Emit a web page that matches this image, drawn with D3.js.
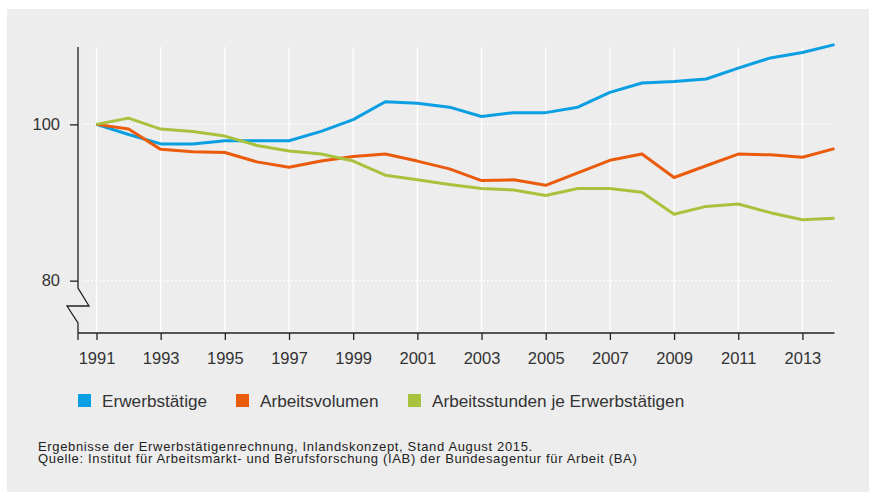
<!DOCTYPE html>
<html lang="de">

<head>
    <meta charset="UTF-8">
    <title>Erwerbstätige und Arbeitsvolumen</title>
    <script src="https://cdn.jsdelivr.net/npm/d3@7"></script>
    <style>
        html, body { margin: 0; padding: 0; background: #fff; }
        svg { display: block; font-family: "Liberation Sans", Arial, sans-serif; }
    </style>
</head>

<body>
    <svg width="869" height="492"></svg>

    <script>
        // data (Index 1991 = 100)
        const years = d3.range(1991, 2015)
        const erwerbstaetige = [100, 98.7, 97.5, 97.5, 97.9, 97.9, 97.9, 99.1, 100.6, 102.9, 102.7, 102.2,
            101.0, 101.5, 101.5, 102.2, 104.1, 105.3, 105.5, 105.8, 107.2, 108.5, 109.2, 110.2]
        const arbeitsvolumen = [100, 99.4, 96.8, 96.5, 96.4, 95.2, 94.5, 95.3, 95.9, 96.2, 95.3, 94.3,
            92.8, 92.9, 92.2, 93.8, 95.4, 96.2, 93.2, 94.7, 96.2, 96.1, 95.8, 96.9]
        const stundenJe = [100, 100.8, 99.4, 99.1, 98.5, 97.3, 96.6, 96.2, 95.3, 93.5, 92.9, 92.3,
            91.8, 91.6, 90.9, 91.8, 91.8, 91.3, 88.5, 89.5, 89.8, 88.7, 87.8, 88.0]
        const yearTicks = d3.range(1991, 2014, 2)
        const valueTicks = [80, 100]

        const seriesNames = ['Erwerbstätige', 'Arbeitsvolumen', 'Arbeitsstunden je Erwerbstätigen']
        const seriesColors = ['#0a9fe2', '#ea5b0c', '#a8c23e']
        const seriesValues = [erwerbstaetige, arbeitsvolumen, stundenJe]

        const notes = [
            'Ergebnisse der Erwerbstätigenrechnung, Inlandskonzept, Stand August 2015.',
            'Quelle: Institut für Arbeitsmarkt- und Berufsforschung (IAB) der Bundesagentur für Arbeit (BA)'
        ]

        const svg = d3.select('svg')

        // grey panel
        svg.append('rect')
            .attr('x', 7).attr('y', 9)
            .attr('width', 862).attr('height', 483)
            .attr('fill', '#ededed')

        const axisX0 = 78
        const x = d3.scaleLinear().domain([1991, 2014]).range([96.5, 834.5])
        const y = d3.scaleLinear().domain([73.3, 109.9]).range([333, 47])

        // vertical grid lines
        svg.append('g')
            .selectAll('line')
            .data(yearTicks)
            .join('line')
            .attr('x1', d => x(d)).attr('x2', d => x(d))
            .attr('y1', y(109.9)).attr('y2', y(73.3))
            .attr('stroke', '#fff')
            .attr('stroke-width', 1.3)

        // dotted horizontal grid
        svg.append('g')
            .selectAll('line')
            .data(valueTicks)
            .join('line')
            .attr('x1', axisX0 + 5).attr('x2', x(2014))
            .attr('y1', d => y(d)).attr('y2', d => y(d))
            .attr('stroke', '#fff')
            .attr('stroke-width', 1.5)
            .attr('stroke-dasharray', '1.5,2.5')

        // lines
        const line = d3.line()
            .x((d, i) => x(years[i]))
            .y(d => y(d))

        svg.append('g')
            .selectAll('path')
            .data(seriesValues)
            .join('path')
            .attr('d', d => line(d))
            .attr('fill', 'none')
            .attr('stroke', (d, i) => seriesColors[i])
            .attr('stroke-width', 3)
            .attr('stroke-linejoin', 'round')

        // x axis
        const xAxis = svg.append('g')
            .attr('transform', `translate(0,${y(73.3)})`)
            .call(d3.axisBottom(x).tickValues(yearTicks).tickFormat(d3.format('d')).tickSize(7).tickPadding(12))
        xAxis.select('.domain').remove()
        xAxis.selectAll('line').attr('stroke', '#222').attr('stroke-width', 1.3)
        xAxis.selectAll('text').attr('font-size', 16.5).attr('fill', '#333')

        svg.append('line')
            .attr('x1', axisX0).attr('x2', x(2014))
            .attr('y1', y(73.3)).attr('y2', y(73.3))
            .attr('stroke', '#222').attr('stroke-width', 1.3)
        svg.append('line')
            .attr('x1', axisX0).attr('x2', axisX0)
            .attr('y1', y(73.3)).attr('y2', y(73.3) + 7)
            .attr('stroke', '#222').attr('stroke-width', 1.3)

        // y axis with break
        const yAxis = svg.append('g')
            .attr('transform', `translate(${axisX0},0)`)
            .call(d3.axisLeft(y).tickValues(valueTicks).tickSize(8).tickPadding(10))
        yAxis.select('.domain').remove()
        yAxis.selectAll('line').attr('stroke', '#222').attr('stroke-width', 1.3)
        yAxis.selectAll('text').attr('font-size', 16.5).attr('fill', '#333')

        const yb = y(73.3)
        svg.append('path')
            .attr('d', d3.line()([
                [axisX0, y(109.9)], [axisX0, yb - 45], [axisX0 + 11, yb - 27],
                [axisX0 - 11, yb - 27], [axisX0, yb - 10], [axisX0, yb]
            ]))
            .attr('fill', 'none')
            .attr('stroke', '#222')
            .attr('stroke-width', 1.3)

        // legend
        const legendX = [78, 236, 408]
        const legend = svg.append('g')
            .selectAll('g')
            .data(seriesNames)
            .join('g')
            .attr('transform', (d, i) => `translate(${legendX[i]},394)`)
        legend.append('rect')
            .attr('width', 13).attr('height', 13)
            .attr('fill', (d, i) => seriesColors[i])
        legend.append('text')
            .attr('x', 24).attr('y', 12.5)
            .attr('font-size', 17.2)
            .attr('fill', '#333')
            .text(d => d)

        // notes
        svg.append('g')
            .selectAll('text')
            .data(notes)
            .join('text')
            .attr('x', 38)
            .attr('y', (d, i) => 450.5 + i * 12.2)
            .attr('font-size', 13)
            .attr('letter-spacing', 0.65)
            .attr('fill', '#222')
            .text(d => d)
    </script>
</body>

</html>
